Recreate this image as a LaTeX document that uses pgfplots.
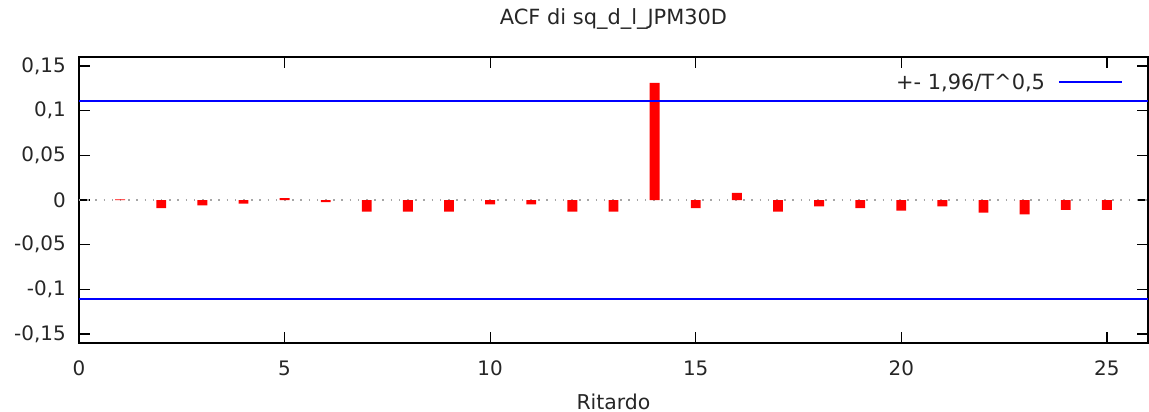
\documentclass[border=0pt]{standalone}
\usepackage{fontspec}
\setmainfont{DejaVu Sans}
\usepackage{pgfplots}
\pgfplotsset{compat=1.18}
\definecolor{gpblue}{RGB}{0,0,255}
\definecolor{gpred}{RGB}{255,0,0}
\begin{document}
\begin{tikzpicture}
\begin{axis}[
  at={(0,0)}, anchor=south west,
  scale only axis, width=1069bp, height=286bp,
  xmin=0, xmax=26, ymin=-0.16, ymax=0.16,
  axis line style={black, line width=1.3bp},
  every tick/.style={black, line width=1.3bp},
  major tick length=11bp, tick align=inside,
  xtick={0,5,10,15,20,25},
  xticklabels={0,5,10,15,20,25},
  ytick={-0.15,-0.1,-0.05,0,0.05,0.1,0.15},
  yticklabels={{-0,15},{-0,1},{-0,05},{0},{0,05},{0,1},{0,15}},
  tick label style={font=\fontsize{20}{24}\selectfont, inner sep=0pt, text=black!85},
  xticklabel style={anchor=base, yshift=-32bp},
  yticklabel style={anchor=east, xshift=-13bp},
  title={ACF di sq\_d\_l\_JPM30D},
  title style={font=\fontsize{21}{25}\selectfont, at={(0.5,1)}, anchor=base, yshift=27bp, inner sep=0pt, text=black!85},
  xlabel={Ritardo},
  xlabel style={font=\fontsize{20.5}{25}\selectfont, at={(0.5,0)}, anchor=base, yshift=-66bp, inner sep=0pt, text=black!85},
  legend plot pos=right,
  legend image code/.code={\draw[#1] (0bp,0bp) -- (63bp,0bp);},
  legend style={at={(0.9766,0.9126)}, anchor=east, draw=none, fill=none, inner sep=0pt,
    column sep=13bp, font=\fontsize{21}{25}\selectfont, text=black!85,
    nodes={inner sep=0pt}},
]
\addplot[forget plot, gray!70, line width=1.5bp, dash pattern=on 1.5bp off 6.7bp] coordinates {(0,0) (26,0)};
\addplot[forget plot, ybar, bar width=0.24, fill=gpred, draw=none] coordinates {
(1,0.0008) (2,-0.009) (3,-0.006) (4,-0.004) (5,0.002) (6,-0.0025) (7,-0.013)
(8,-0.013) (9,-0.013) (10,-0.005) (11,-0.005) (12,-0.013) (13,-0.013)
(14,0.131) (15,-0.009) (16,0.008) (17,-0.013) (18,-0.007) (19,-0.009)
(20,-0.012) (21,-0.007) (22,-0.014) (23,-0.016) (24,-0.011) (25,-0.011)};
\addplot[forget plot, draw=gpblue, line width=1.9bp, mark=none] coordinates {(0,0.1103) (26,0.1103)};
\addplot[forget plot, draw=gpblue, line width=1.9bp, mark=none] coordinates {(0,-0.1103) (26,-0.1103)};
\addlegendimage{draw=gpblue, line width=1.7bp}
\addlegendentry{+- 1,96/T\textasciicircum 0,5}
\end{axis}
\pgfresetboundingbox
\useasboundingbox (-79bp,-69bp) rectangle (1070bp,343bp);
\end{tikzpicture}
\end{document}
